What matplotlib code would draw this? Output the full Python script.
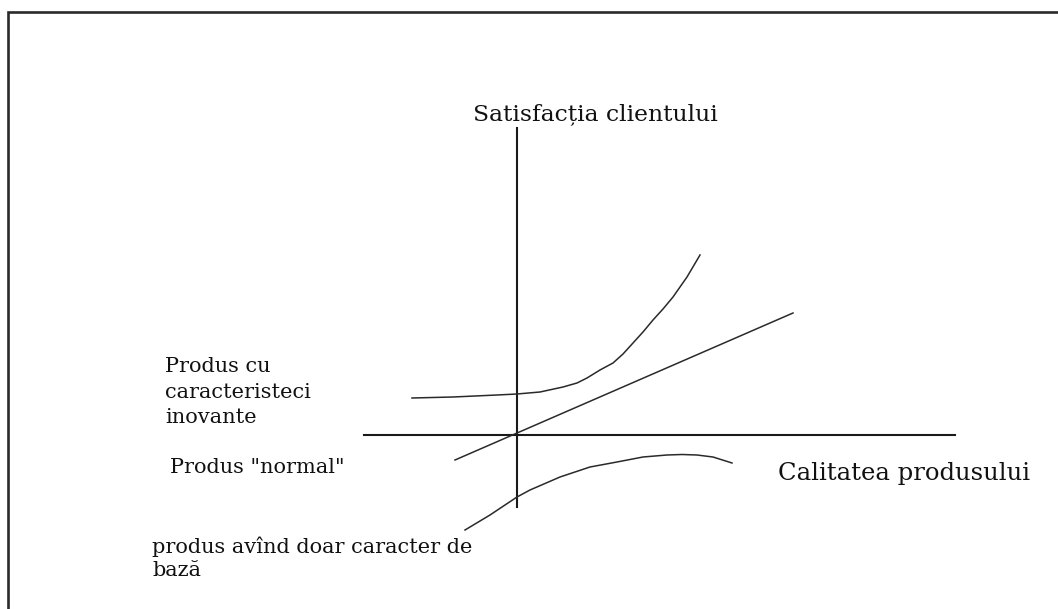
import matplotlib
matplotlib.use("Agg")
import matplotlib.pyplot as plt

# Conceptual Kano-style diagram: x = product quality, y = customer satisfaction
# (units: arbitrary, origin where the two axes cross)

# "Produs cu caracteristeci inovante" (exciter) curve
exciter_q = [-105, -64, -20, 0, 23, 46, 60, 70, 83, 96, 106, 116, 126, 136, 146, 156, 170, 183]
exciter_s = [37, 38, 40, 41, 43, 48, 52, 57, 65, 72, 81, 92, 103, 115, 126, 138, 158, 180]

# "Produs normal" (linear) line
normal_q = [-62, 276]
normal_s = [-25, 122]

# "produs avînd doar caracter de bază" (basic) curve
basic_q = [-52, -27, 0, 13, 43, 73, 100, 126, 150, 165, 180, 196, 215]
basic_s = [-95, -80, -62, -55, -42, -32, -27, -22, -20, -19.5, -20, -22, -28]

# axis extents
x_axis = [-153, 438]
y_axis = [-72, 307]

# labels
y_title = "Satisfacția clientului"
x_title = "Calitatea produsului"
exciter_label = ["Produs cu", "caracteristeci", "inovante"]
normal_label = 'Produs "normal"'
basic_label = ["produs avînd doar caracter de", "bază"]

fig = plt.figure(figsize=(10.58, 6.09), dpi=100)
ax = fig.add_axes([0, 0, 1, 1])
ax.set_xlim(-517, 541)
ax.set_ylim(-174, 435)
ax.axis("off")

# outer frame
ax.plot([8 / 1058, 8 / 1058, 1.01], [-0.01, 1 - 12 / 609, 1 - 12 / 609],
        transform=ax.transAxes, color="#2a2a2a", lw=1.9, clip_on=False,
        solid_joinstyle="miter")

axis_col = "#1a1a1a"
curve_col = "#2a2a2a"
ax.plot(x_axis, [0, 0], color=axis_col, lw=1.5)
ax.plot([0, 0], y_axis, color=axis_col, lw=1.5)

ax.plot(exciter_q, exciter_s, color=curve_col, lw=1.1)
ax.plot(normal_q, normal_s, color=curve_col, lw=1.1)
ax.plot(basic_q, basic_s, color=curve_col, lw=1.1)

font = "DejaVu Serif"
ax.text(-44, 315, y_title, family=font, fontsize=16.9, va="baseline", ha="left", color="#111")
ax.text(261, -45, x_title, family=font, fontsize=17.5, va="baseline", ha="left", color="#111")

small = 15
for i, line in enumerate(exciter_label):
    ax.text(-352, 63 - 25.5 * i, line, family=font, fontsize=small, va="baseline", ha="left", color="#111")
ax.text(-347, -38, normal_label, family=font, fontsize=small, va="baseline", ha="left", color="#111")
for i, line in enumerate(basic_label):
    ax.text(-365, -118 - 23 * i, line, family=font, fontsize=small, va="baseline", ha="left", color="#111")

fig.savefig("out.png", dpi=100, facecolor="white")
